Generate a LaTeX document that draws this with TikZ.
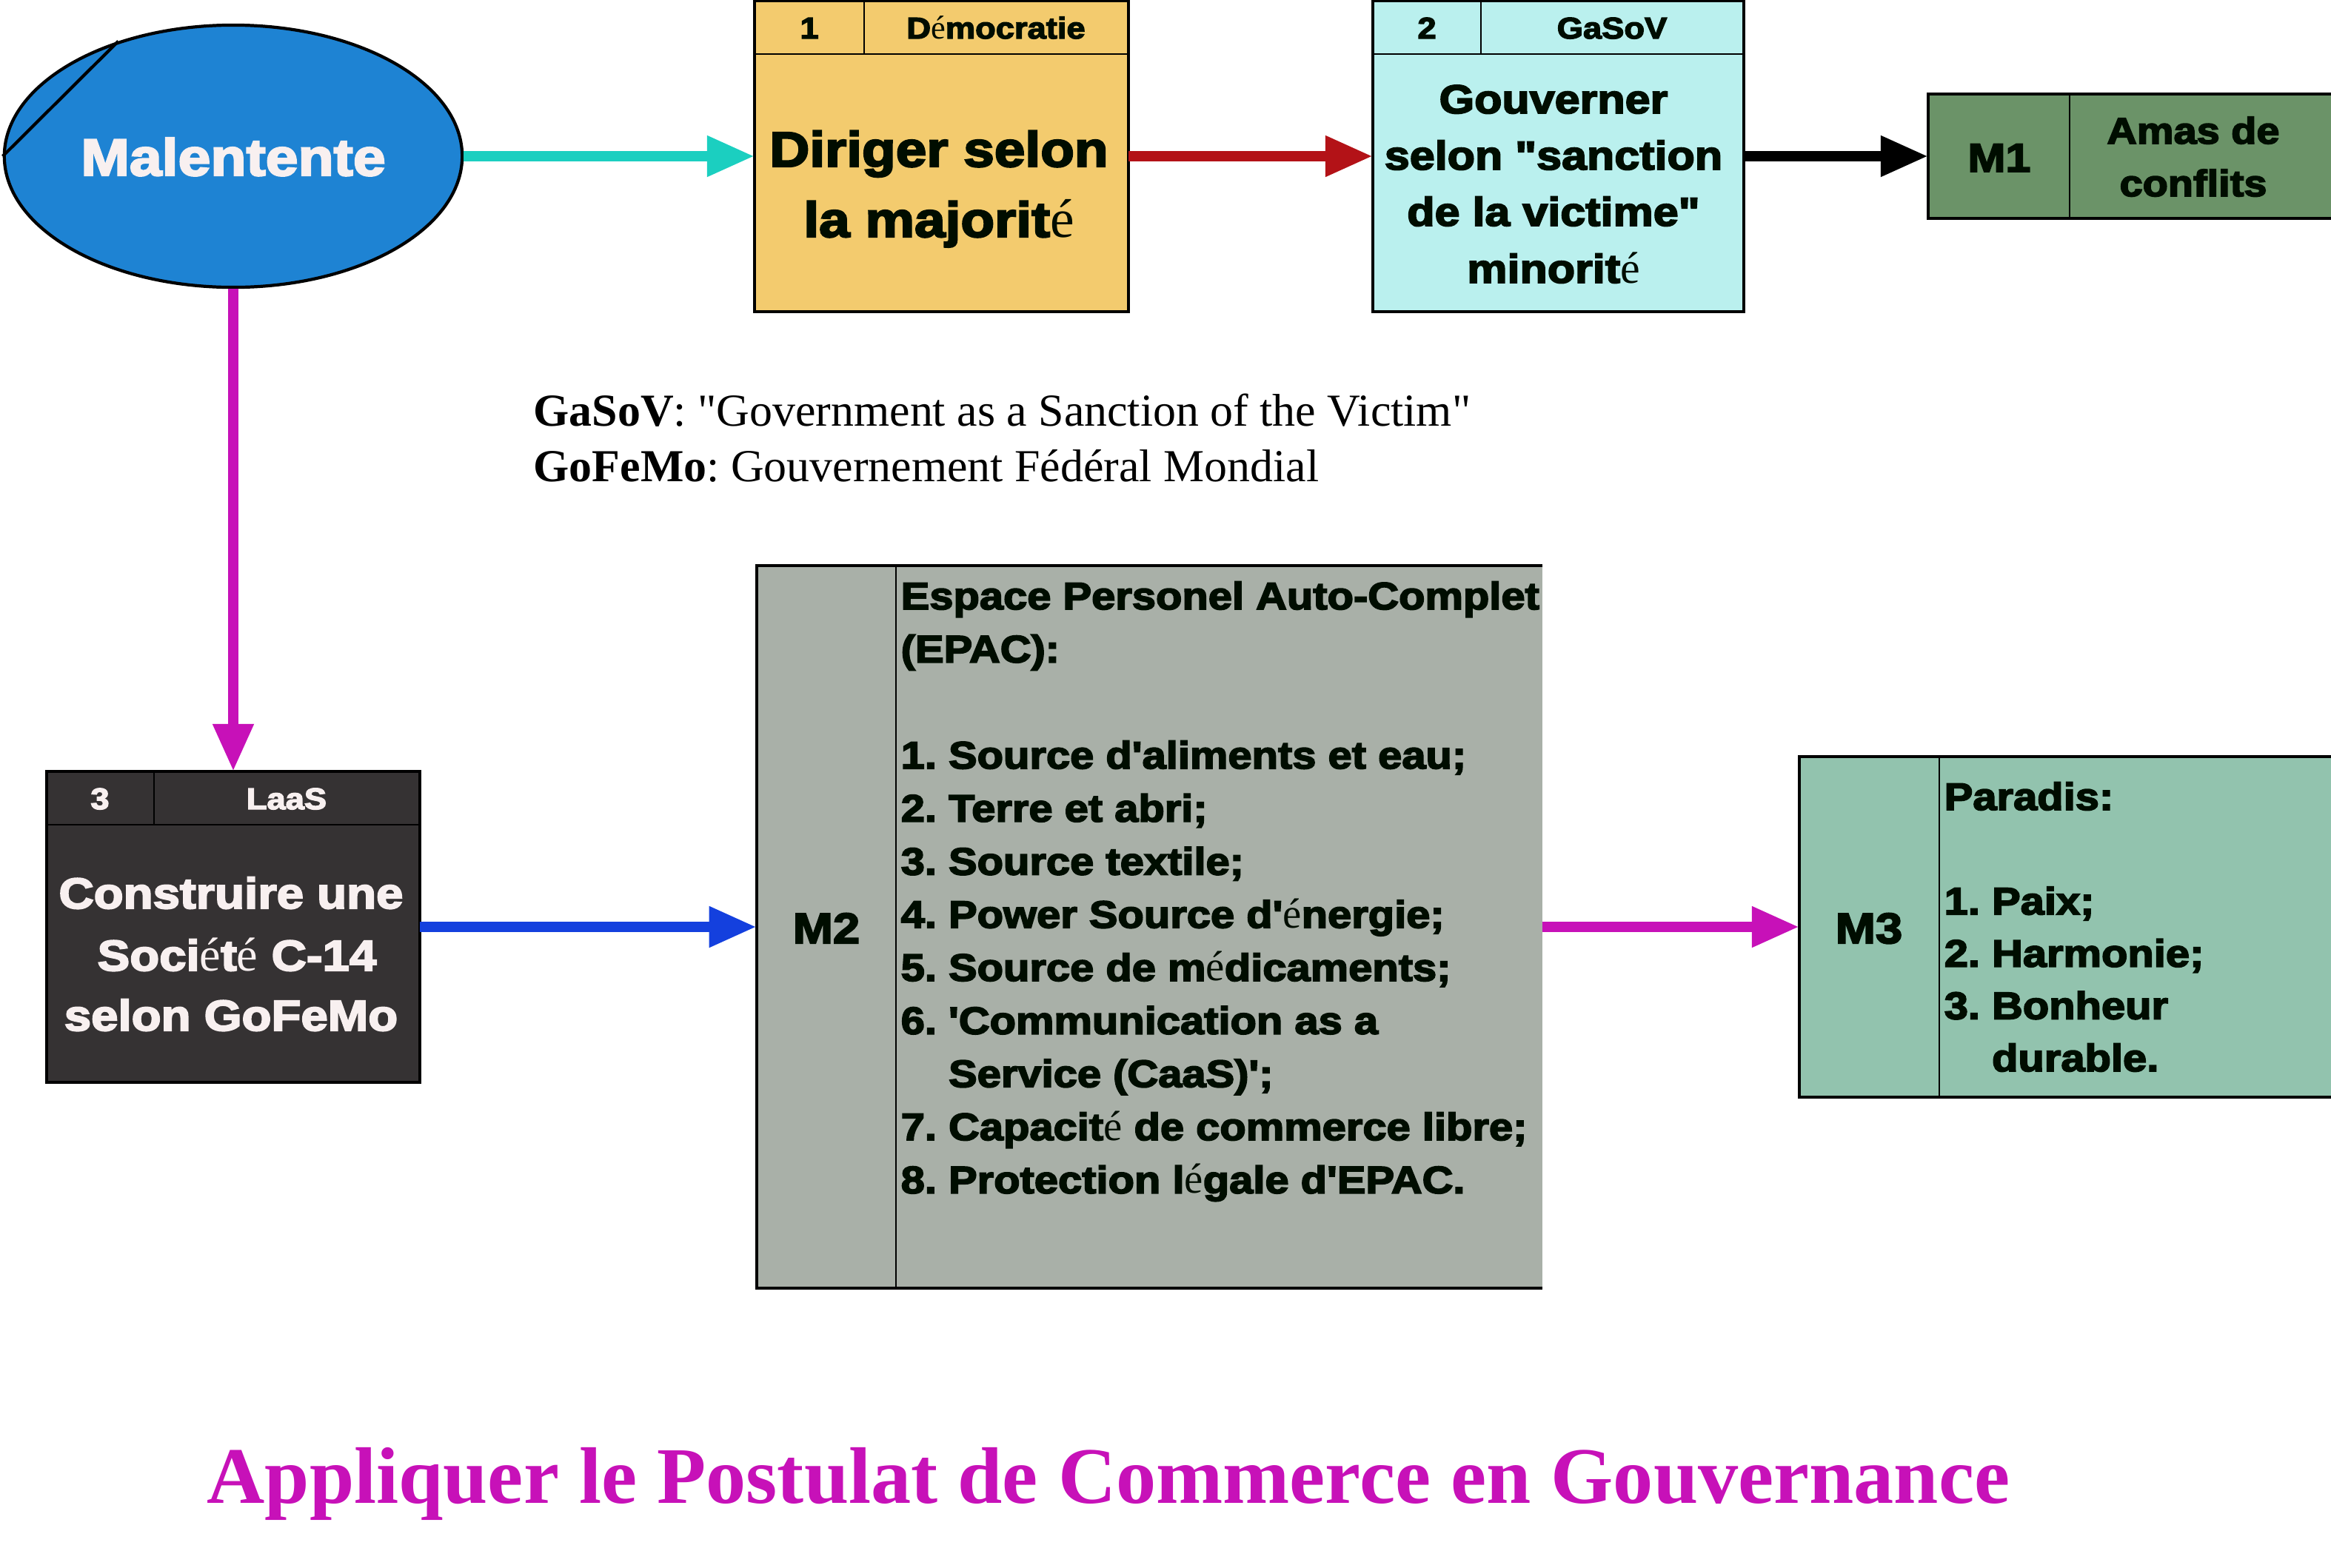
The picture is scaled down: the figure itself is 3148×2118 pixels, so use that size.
\documentclass[tikz,border=0pt]{standalone}
\usepackage{fontspec}
\setmainfont{Liberation Serif}
\newfontfamily\hv{Liberation Sans}[FakeStretch=1.12,BoldFeatures={FakeBold=3.5}]
\newfontfamily\tms{Liberation Serif}
\usetikzlibrary{arrows.meta,shapes.geometric}
\newcommand\se{{\tms\mdseries\scalebox{1.1}{é}}}
\newcommand\hvf[1]{\hv\bfseries\fontsize{#1}{#1}\selectfont}
\definecolor{ellblue}{RGB}{30,131,211}
\definecolor{wtxt}{RGB}{248,240,240}
\definecolor{ink}{RGB}{0,13,0}
\definecolor{cyanc}{RGB}{27,207,192}
\definecolor{redc}{RGB}{179,18,23}
\definecolor{magc}{RGB}{199,17,184}
\definecolor{bluec}{RGB}{20,64,222}
\definecolor{bonefill}{RGB}{243,203,110}
\definecolor{btwofill}{RGB}{186,240,238}
\definecolor{bthreefill}{RGB}{53,50,51}
\definecolor{monefill}{RGB}{107,147,104}
\definecolor{mtwofill}{RGB}{169,176,168}
\definecolor{mthreefill}{RGB}{146,195,174}
\frenchspacing
\begin{document}
\begin{tikzpicture}[x=0.01cm,y=-0.01cm,
  box/.style={rectangle,draw=black,line width=1.2pt,inner sep=0pt,outer sep=0pt},
  mbox/.style={rectangle,inner sep=0pt,outer sep=0pt},
  border/.style={line width=1.2pt,black},
  inl/.style={line width=0.8pt,black},
  txt/.style={inner sep=0pt,anchor=base},
  ltxt/.style={inner sep=0pt,anchor=base west},
  arr/.style={line width=4pt,-{Triangle[length=0.64cm,width=0.52cm]}}]
\useasboundingbox (0,0) rectangle (3148,2118);
\clip (0,0) rectangle (3148,2118);

% ---- Malentente ellipse
\node[ellipse,draw=black,line width=1.2pt,fill=ellblue,minimum width=6.18cm,minimum height=3.54cm,inner sep=0pt] (mal) at (315,211) {};
\draw[line width=1.2pt] (mal.180) -- (mal.135);
\node[txt,font=\hvf{20},text=wtxt] (malt) at (315,237) {Malentente};

% ---- Box 1 Democratie
\node[box,fill=bonefill,minimum width=5.05cm,minimum height=4.19cm] (b1) at (1271.5,211) {};
\draw[inl] (1019,73) -- (1524,73);
\draw[inl] (1167,2) -- (1167,73);
\node[txt,font=\hvf{11.5},text=ink] (b1n) at (1093,52) {1};
\node[txt,font=\hvf{11.5},text=ink] (b1h) at (1345,52) {D\se mocratie};
\node[txt,font=\hvf{19},text=ink] (b1a) at (1268,225) {Diriger selon};
\node[txt,font=\hvf{19},text=ink] (b1b) at (1268,320) {la majorit\se};

% ---- Box 2 GaSoV
\node[box,fill=btwofill,minimum width=5.01cm,minimum height=4.19cm] (b2) at (2104.5,211) {};
\draw[inl] (1854,73) -- (2355,73);
\draw[inl] (2000,2) -- (2000,73);
\node[txt,font=\hvf{11.5},text=ink] (b2n) at (1927,52) {2};
\node[txt,font=\hvf{11.5},text=ink] (b2h) at (2177,52) {GaSoV};
\node[txt,font=\hvf{15.5},text=ink] (b2a) at (2098,153) {Gouverner};
\node[txt,font=\hvf{15.5},text=ink] (b2b) at (2098,229) {selon "sanction};
\node[txt,font=\hvf{15.5},text=ink] (b2c) at (2098,305) {de la victime"};
\node[txt,font=\hvf{15.5},text=ink] (b2d) at (2098,382) {minorit\se};

% ---- M1
\node[mbox,fill=monefill,minimum width=5.56cm,minimum height=1.68cm] (m1) at (2882,211) {};
\draw[border] (m1.north east) -- (m1.north west) -- (m1.south west) -- (m1.south east);
\draw[inl] (2795,127) -- (2795,295);
\node[txt,font=\hvf{15.5},text=ink] (m1l) at (2700,232) {M1};
\node[txt,font=\hvf{14.2},text=ink] (m1a) at (2962,194) {Amas de};
\node[txt,font=\hvf{14.2},text=ink] (m1b) at (2962,265) {conflits};

% ---- Notes
\node[ltxt,font=\tms\fontsize{17.6}{20}\selectfont] (note1) at (720,575) {\textbf{GaSoV}: "Government as a Sanction of the Victim"};
\node[ltxt,font=\tms\fontsize{17.6}{20}\selectfont] (note2) at (720,650) {\textbf{GoFeMo}: Gouvernement Fédéral Mondial};

% ---- Box 3 LaaS
\node[box,fill=bthreefill,minimum width=5.03cm,minimum height=4.2cm] (b3) at (315,1252) {};
\draw[inl] (63.5,1114) -- (566.5,1114);
\draw[inl] (208,1042) -- (208,1114);
\node[txt,font=\hvf{11.5},text=wtxt] (b3n) at (135,1093) {3};
\node[txt,font=\hvf{11.5},text=wtxt] (b3h) at (387,1093) {LaaS};
\node[txt,font=\hvf{16.6},text=wtxt] (b3a) at (312,1227) {Construire une};
\node[txt,font=\hvf{16.6},text=wtxt] (b3b) at (320,1311) {Soci\se t\se{} C-14};
\node[txt,font=\hvf{16.6},text=wtxt] (b3c) at (312,1392) {selon GoFeMo};

% ---- M2
\node[mbox,fill=mtwofill,minimum width=10.61cm,minimum height=9.76cm] (m2) at (1552.5,1252) {};
\draw[border] (m2.north east) -- (m2.north west) -- (m2.south west) -- (m2.south east);
\draw[inl] (1210,764) -- (1210,1740);
\node[txt,font=\hvf{16.5},text=ink] (m2l) at (1116,1274) {M2};
\foreach \k/\lineT in {0/{Espace Personel Auto-Complet},1/{(EPAC):},3/{1. Source d'aliments et eau;},4/{2. Terre et abri;},5/{3. Source textile;},6/{4. Power Source d'\se nergie;},7/{5. Source de m\se dicaments;},8/{6. 'Communication as a},9/{\phantom{6. }Service (CaaS)';},10/{7. Capacit\se{} de commerce libre;},11/{8. Protection l\se gale d'EPAC.}}
  \node[ltxt,font=\hvf{14.7},text=ink] (m2t\k) at (1216,823+71.7*\k) {\lineT};

% ---- M3
\node[mbox,fill=mthreefill,minimum width=7.3cm,minimum height=4.6cm] (m3) at (2795,1252) {};
\draw[border] (m3.north east) -- (m3.north west) -- (m3.south west) -- (m3.south east);
\draw[inl] (2619,1022) -- (2619,1482);
\node[txt,font=\hvf{16.5},text=ink] (m3l) at (2524,1274) {M3};
\foreach \k/\lineT in {0/{Paradis:},2/{1. Paix;},3/{2. Harmonie;},4/{3. Bonheur},5/{\phantom{3. }durable.}}
  \node[ltxt,font=\hvf{14.7},text=ink] (m3t\k) at (2625,1094+70.6*\k) {\lineT};

% ---- Connectors
\draw[arr,cyanc] (mal.east) -- (b1.west);
\draw[arr,redc] (b1.east) -- (b2.west);
\draw[arr,black] (b2.east) -- (m1.west);
\draw[arr,magc] (mal.south) -- (b3.north);
\draw[arr,bluec] (b3.east) -- (m2.west);
\draw[arr,magc] (m2.east) -- (m3.west);

% ---- Title
\node[txt,font=\tms\bfseries\fontsize{30.8}{34}\selectfont,text=magc] (title) at (1497,2030) {Appliquer le Postulat de Commerce en Gouvernance};
\end{tikzpicture}
\end{document}
